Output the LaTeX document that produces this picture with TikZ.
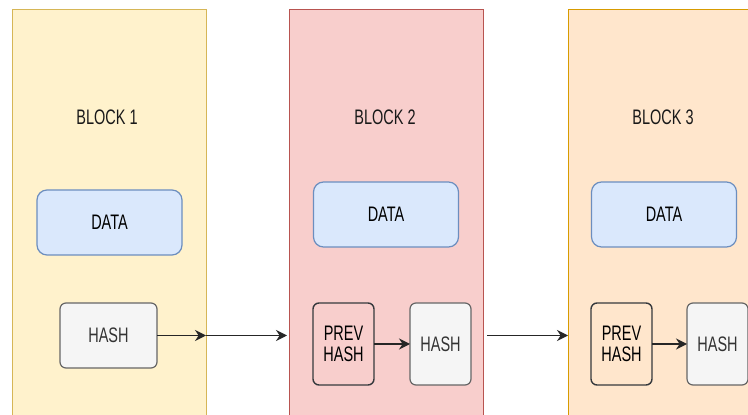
\documentclass[tikz,border=0pt]{standalone}
\usepackage{fontspec}
\setmainfont{Liberation Sans}[FakeStretch=0.69]
\usepackage{tikz}
\usetikzlibrary{arrows.meta, positioning}

\definecolor{blkyel}{HTML}{FFF2CC}
\definecolor{blkyelline}{HTML}{D6B656}
\definecolor{blkred}{HTML}{F8CECC}
\definecolor{blkredline}{HTML}{B85450}
\definecolor{blkorg}{HTML}{FFE6CC}
\definecolor{blkorgline}{HTML}{D79B00}
\definecolor{datafill}{HTML}{DAE8FC}
\definecolor{dataline}{HTML}{6C8EBF}
\definecolor{hashfill}{HTML}{F5F5F5}
\definecolor{hashline}{HTML}{666666}
\definecolor{hashtext}{HTML}{333333}
\definecolor{prevline}{HTML}{36393D}

\begin{document}
\begin{tikzpicture}[
		x=0.5pt, y=-0.5pt,
		node distance = 18pt,
		>={Stealth[length=5.5pt, width=5.5pt]},
		font=\fontsize{10.5}{10.5}\selectfont,
		chain/.style = {draw, rectangle, line width=0.5pt, inner sep=0pt, outer sep=0pt, minimum width=97pt, minimum height=207pt},
		title/.style = {text=black!90},
		data/.style = {draw=dataline, fill=datafill, rectangle, rounded corners=5pt, line width=0.6pt, inner sep=0pt, outer sep=0pt, minimum width=72.5pt, minimum height=32.5pt},
		hash/.style = {draw=hashline, fill=hashfill, text=hashtext, rectangle, rounded corners=3pt, line width=0.6pt, inner sep=0pt, outer sep=0pt, minimum height=41pt, minimum width=30.5pt, align=center},
		prev/.style = {draw=prevline, rectangle, rounded corners=3pt, line width=0.7pt, inner sep=0pt, outer sep=0pt, minimum height=41pt, minimum width=30.5pt, align=center},
		link/.style = {->, line width=0.8pt, black!85}
		]
		
		\useasboundingbox (0,0) rectangle (748,415);
		\fill[white] (0,0) rectangle (748,415);
		\clip (0,0) rectangle (748,415);
		
		\node [chain, draw=blkyelline, fill=blkyel] (blk1) at (109,217) {};
		\node [chain, draw=blkredline, fill=blkred] (blk2) at (386,217) {};
		\node [chain, draw=blkorgline, fill=blkorg] (blk3) at (665,217) {};
		
		\node [title] (lbl1) at (107,117) {BLOCK 1};
		\node [title] (lbl2) at (385,117) {BLOCK 2};
		\node [title] (lbl3) at (663,117) {BLOCK 3};
		
		\node [data] (data1) at (109.5,222.5) {DATA};
		\node [data] (data2) at (386,214.5) {DATA};
		\node [data] (data3) at (664,214.5) {DATA};
		
		\node [hash, minimum width=48.5pt, minimum height=32.5pt] (hash1) at (108.5,335.5) {HASH};
		
		\node [prev] (prev2) at (343.5,344) {PREV\\HASH};
		\node [hash, right=18pt of prev2] (hash2) {HASH};
		
		\node [prev] (prev3) at (621.5,344) {PREV\\HASH};
		\node [hash, right=17.5pt of prev3] (hash3) {HASH};
		
		\draw [link] (hash1.east) -- (hash1.east -| blk1.east);
		\draw [link] (hash1.east -| blk1.east) -- ([xshift=-1pt]hash1.east -| blk2.west);
		\draw [link] (prev2) -- (hash2);
		\draw [link] ([xshift=2pt]hash1.east -| blk2.east) -- (hash1.east -| blk3.west);
		\draw [link] (prev3) -- (hash3);
		
	\end{tikzpicture}
\end{document}
